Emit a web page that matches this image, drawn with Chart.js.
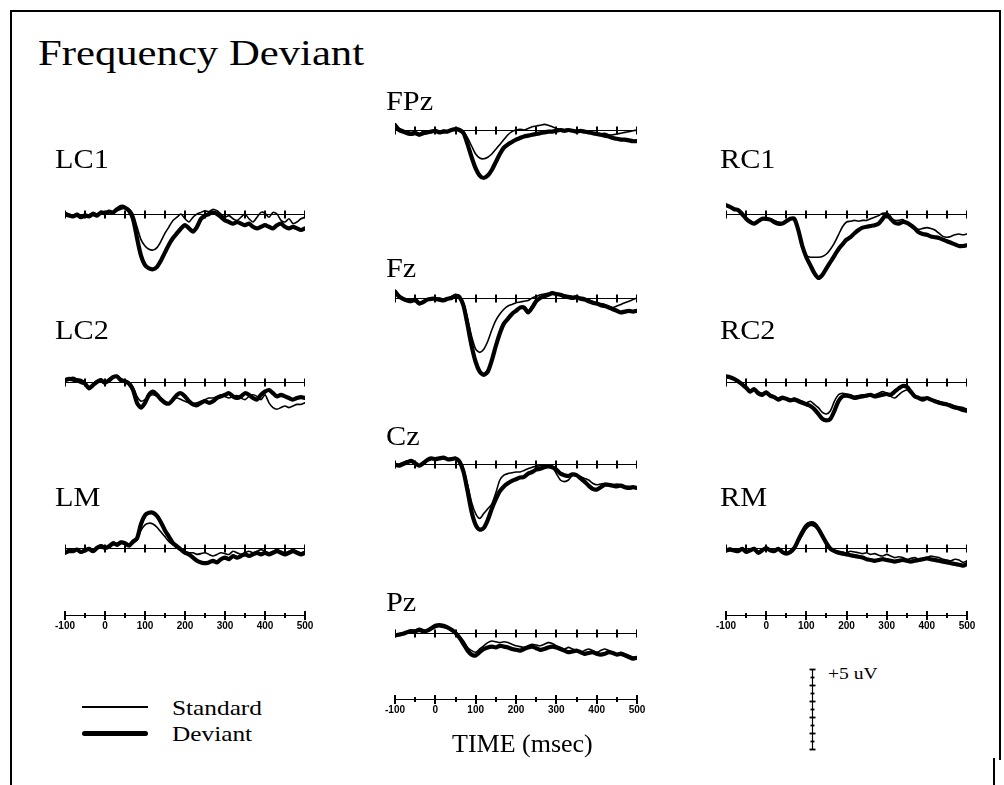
<!DOCTYPE html>
<html><head><meta charset="utf-8">
<script src="https://cdn.jsdelivr.net/npm/chart.js@4/dist/chart.umd.min.js"></script>
<style>
html,body{margin:0;padding:0;background:#fff;}
#wrap{position:relative;width:1004px;height:785px;overflow:hidden;background:#fff;}
.t{position:absolute;font-family:"Liberation Serif","Times New Roman",serif;color:#000;white-space:nowrap;line-height:1;transform-origin:0 0;}
canvas{position:absolute;}
.rule{position:absolute;background:#000;}
</style></head><body><div id="wrap"></div>
<script>
// ---- data (microvolts, 10 ms steps) ----
const TIMES = [-100,-90,-80,-70,-60,-50,-40,-30,-20,-10,0,10,20,30,40,50,60,70,80,90,100,110,120,130,140,150,160,170,180,190,200,210,220,230,240,250,260,270,280,290,300,310,320,330,340,350,360,370,380,390,400,410,420,430,440,450,460,470,480,490,500];
const AXIS_TICKS = [-100,-50,0,50,100,150,200,250,300,350,400,450,500];
const TICK_LABELS = [-100,0,100,200,300,400,500];
const CAL_TICKS = [0,0.5,1,1.5,2,2.5,3,3.5,4,4.5,5];

const LC1_STD = [0.1,0.0,-0.1,0.05,-0.1,0.0,-0.05,0.1,0.0,0.15,0.1,
 0.2,0.1,0.2,0.3,0.4,0.3,
 0.0,-0.8,-1.6,-2.0,-2.2,-2.25,-2.1,-1.7,-1.2,-0.8,
 -0.4,-0.2,0.0,-0.3,-0.5,-0.2,0.0,0.1,0.2,0.15,
 0.3,0.2,0.0,-0.2,-0.1,-0.3,-0.4,-0.2,0.0,-0.3,
 -0.5,-0.2,0.1,0.05,-0.2,0.1,0.0,-0.4,-0.5,-0.3,
 -0.6,-0.5,-0.3,-0.2];
const LC1_DEV = [0.0,-0.1,-0.15,-0.05,-0.2,-0.1,-0.15,0.0,-0.1,0.1,0.05,
 0.15,0.1,0.3,0.45,0.4,0.2,
 -0.3,-1.5,-2.6,-3.2,-3.4,-3.45,-3.3,-2.9,-2.4,-1.9,
 -1.5,-1.2,-0.9,-0.7,-0.9,-1.1,-0.8,-0.3,-0.1,0.0,
 0.1,0.0,-0.2,-0.4,-0.5,-0.6,-0.5,-0.6,-0.7,-0.6,
 -0.8,-0.9,-0.8,-0.7,-0.8,-0.9,-0.7,-0.6,-0.8,-0.9,
 -0.8,-0.9,-1.0,-0.9];
const LC2_STD = [0.2,0.25,0.3,0.2,0.15,0.0,-0.3,-0.1,0.1,0.2,0.0,
 0.2,0.3,0.4,0.2,0.1,0.0,
 -0.3,-0.9,-1.2,-1.1,-0.9,-0.8,-0.9,-1.0,-1.2,-1.3,
 -1.1,-1.0,-1.1,-1.2,-1.3,-1.35,-1.3,-1.2,-1.1,-1.0,
 -1.0,-0.9,-0.8,-0.9,-1.0,-0.9,-0.85,-1.0,-1.1,-0.9,
 -0.8,-0.9,-1.1,-0.8,-1.3,-1.6,-1.7,-1.6,-1.5,-1.6,
 -1.5,-1.4,-1.4,-1.3];
const LC2_DEV = [0.1,0.2,0.15,0.1,0.0,-0.1,-0.4,-0.2,0.0,0.1,-0.05,
 0.1,0.3,0.35,0.1,0.05,-0.1,
 -0.5,-1.3,-1.6,-1.3,-0.8,-0.6,-0.8,-1.1,-1.3,-1.35,
 -1.1,-0.8,-0.7,-0.9,-1.2,-1.4,-1.45,-1.3,-1.2,-1.3,
 -1.2,-1.0,-0.9,-0.8,-0.7,-0.9,-1.0,-0.9,-0.7,-0.8,
 -1.0,-1.1,-0.8,-0.6,-0.5,-0.7,-0.9,-0.8,-0.9,-1.0,
 -1.1,-1.0,-0.95,-1.0];
const LM_STD = [-0.2,-0.1,-0.15,-0.1,-0.2,-0.1,0.0,-0.1,0.1,0.2,0.1,
 0.0,0.2,0.3,0.4,0.3,0.2,
 0.3,0.5,1.1,1.45,1.55,1.5,1.3,1.0,0.7,0.4,
 0.2,0.0,-0.1,-0.2,-0.3,-0.3,-0.4,-0.35,-0.3,-0.4,
 -0.5,-0.4,-0.3,-0.35,-0.4,-0.2,-0.3,-0.4,-0.3,-0.2,
 -0.3,-0.2,-0.1,-0.2,-0.3,-0.2,-0.1,-0.2,-0.3,-0.2,
 -0.1,-0.2,-0.3,-0.2];
const LM_DEV = [-0.3,-0.2,-0.2,-0.1,-0.25,-0.15,-0.05,-0.2,0.0,0.1,0.0,
 0.1,0.3,0.2,0.35,0.3,0.15,
 0.4,0.6,1.5,2.05,2.2,2.2,2.0,1.6,1.1,0.7,
 0.3,0.1,-0.1,-0.3,-0.4,-0.6,-0.8,-0.9,-0.95,-0.9,
 -0.8,-0.9,-0.7,-0.6,-0.7,-0.5,-0.6,-0.5,-0.4,-0.5,
 -0.4,-0.3,-0.4,-0.3,-0.4,-0.3,-0.2,-0.3,-0.4,-0.3,
 -0.2,-0.3,-0.4,-0.3];
const FPZ_STD = [0.4,0.1,0.0,-0.1,-0.15,-0.1,-0.2,-0.1,-0.05,-0.1,0.0,
 -0.1,0.0,-0.05,0.0,0.1,0.05,
 -0.1,-0.5,-1.0,-1.5,-1.75,-1.8,-1.7,-1.5,-1.2,-0.9,
 -0.6,-0.3,-0.1,0.0,0.05,0.0,0.1,0.2,0.25,0.3,
 0.35,0.3,0.2,0.1,0.05,0.0,0.05,0.0,-0.05,0.0,
 -0.1,-0.1,-0.2,-0.2,-0.25,-0.2,-0.3,-0.3,-0.25,-0.2,
 -0.15,-0.1,-0.05,0.0];
const FPZ_DEV = [0.3,0.0,-0.1,-0.2,-0.25,-0.2,-0.3,-0.2,-0.15,-0.1,-0.05,
 -0.15,-0.1,-0.1,0.0,0.05,0.0,
 -0.2,-0.9,-1.7,-2.4,-2.85,-3.0,-2.85,-2.5,-2.0,-1.5,
 -1.1,-0.9,-0.75,-0.6,-0.5,-0.4,-0.35,-0.3,-0.25,-0.2,
 -0.15,-0.1,-0.1,-0.05,0.0,-0.05,0.0,-0.05,-0.1,-0.05,
 -0.1,-0.15,-0.2,-0.25,-0.3,-0.35,-0.4,-0.5,-0.55,-0.6,
 -0.6,-0.65,-0.7,-0.7];
const FZ_STD = [0.5,0.2,0.0,-0.1,-0.1,-0.05,-0.3,-0.2,-0.1,0.0,-0.1,
 0.0,-0.1,0.0,0.1,0.2,0.1,
 -0.3,-1.3,-2.4,-3.2,-3.4,-3.2,-2.7,-2.0,-1.4,-1.0,
 -0.7,-0.5,-0.4,-0.3,-0.25,-0.2,-0.15,0.0,0.1,0.2,
 0.25,0.3,0.35,0.3,0.25,0.2,0.15,0.1,0.1,0.05,
 0.0,-0.1,-0.2,-0.3,-0.35,-0.4,-0.5,-0.6,-0.5,-0.4,
 -0.3,-0.2,-0.1,0.0];
const FZ_DEV = [0.4,0.1,-0.05,-0.15,-0.2,-0.1,-0.35,-0.25,-0.1,-0.05,-0.05,
 -0.1,-0.15,-0.05,0.0,0.15,0.05,
 -0.5,-1.7,-3.0,-4.0,-4.6,-4.8,-4.6,-3.9,-3.0,-2.2,
 -1.6,-1.3,-1.0,-0.8,-0.6,-0.6,-0.9,-0.6,-0.2,0.0,
 0.1,0.2,0.3,0.25,0.2,0.1,0.05,0.0,0.05,-0.05,
 -0.1,-0.2,-0.3,-0.35,-0.45,-0.5,-0.6,-0.7,-0.8,-0.9,
 -0.85,-0.8,-0.85,-0.8];
const CZ_STD = [-0.1,0.0,0.1,0.2,0.15,0.0,-0.15,0.0,0.2,0.3,0.35,
 0.4,0.35,0.3,0.35,0.4,0.2,
 -0.3,-1.3,-2.4,-3.1,-3.4,-3.1,-2.8,-2.5,-1.8,-1.0,
 -0.7,-0.6,-0.55,-0.5,-0.5,-0.4,-0.3,-0.2,-0.15,-0.1,
 -0.1,-0.15,-0.2,-0.6,-1.0,-1.1,-1.0,-0.7,-0.7,-0.8,
 -0.9,-1.0,-1.2,-1.3,-1.25,-1.2,-1.25,-1.3,-1.25,-1.3,
 -1.4,-1.4,-1.45,-1.45];
const CZ_DEV = [-0.05,-0.1,0.0,0.1,0.2,0.05,-0.1,0.05,0.25,0.35,0.3,
 0.35,0.4,0.3,0.3,0.35,0.15,
 -0.5,-1.7,-3.0,-3.8,-4.1,-4.0,-3.5,-2.8,-2.2,-1.7,
 -1.4,-1.2,-1.05,-0.95,-0.85,-0.8,-0.6,-0.5,-0.35,-0.3,
 -0.2,-0.15,-0.2,-0.35,-0.6,-0.7,-0.75,-0.65,-0.7,-0.9,
 -1.1,-1.35,-1.55,-1.6,-1.45,-1.3,-1.3,-1.35,-1.4,-1.35,
 -1.45,-1.5,-1.45,-1.5];
const PZ_STD = [-0.1,-0.05,0.0,0.1,0.2,0.15,0.3,0.2,0.1,0.2,0.35,
 0.4,0.35,0.3,0.15,0.0,-0.2,
 -0.5,-0.9,-1.1,-1.2,-1.0,-0.8,-0.6,-0.5,-0.55,-0.6,
 -0.55,-0.6,-0.7,-0.8,-0.85,-0.9,-0.8,-0.7,-0.75,-0.8,
 -0.7,-0.6,-0.65,-0.8,-0.9,-1.0,-0.9,-1.0,-1.1,-1.2,
 -1.1,-1.0,-1.1,-1.2,-1.1,-1.0,-1.1,-1.2,-1.3,-1.2,
 -1.3,-1.4,-1.5,-1.55];
const PZ_DEV = [-0.15,-0.1,-0.05,0.05,0.1,0.1,0.2,0.1,0.15,0.3,0.45,
 0.5,0.45,0.35,0.2,0.0,-0.3,
 -0.7,-1.1,-1.35,-1.4,-1.2,-1.0,-0.9,-0.85,-0.9,-0.8,
 -0.85,-0.9,-1.0,-1.05,-1.1,-1.0,-0.9,-0.85,-0.95,-1.05,
 -1.0,-0.9,-0.85,-0.9,-1.0,-1.1,-1.2,-1.15,-1.1,-1.2,
 -1.3,-1.25,-1.2,-1.3,-1.35,-1.3,-1.2,-1.25,-1.35,-1.3,
 -1.4,-1.5,-1.6,-1.55];
const RC1_STD = [0.5,0.4,0.35,0.3,0.1,-0.2,-0.4,-0.55,-0.4,-0.35,-0.3,
 -0.3,-0.4,-0.5,-0.55,-0.4,-0.25,
 -0.3,-0.9,-1.9,-2.6,-2.7,-2.7,-2.7,-2.65,-2.5,-2.2,
 -1.8,-1.3,-0.8,-0.5,-0.45,-0.4,-0.45,-0.4,-0.4,-0.3,
 -0.2,-0.1,0.05,0.0,-0.3,-0.4,-0.4,-0.35,-0.5,-0.7,
 -0.9,-0.95,-0.9,-0.85,-0.9,-1.0,-1.2,-1.4,-1.45,-1.4,
 -1.3,-1.25,-1.3,-1.25];
const RC1_DEV = [0.55,0.45,0.3,0.25,0.0,-0.3,-0.5,-0.6,-0.45,-0.3,-0.3,
 -0.35,-0.5,-0.6,-0.6,-0.45,-0.3,
 -0.3,-1.0,-2.0,-2.7,-3.2,-3.7,-4.0,-3.8,-3.4,-3.0,
 -2.6,-2.2,-1.9,-1.6,-1.45,-1.2,-1.0,-0.85,-0.8,-0.75,
 -0.7,-0.6,-0.3,0.0,-0.3,-0.55,-0.6,-0.5,-0.55,-0.7,
 -0.9,-1.15,-1.25,-1.3,-1.4,-1.45,-1.5,-1.6,-1.7,-1.8,
 -1.9,-2.0,-2.0,-1.95];
const RC2_STD = [0.3,0.25,0.2,0.1,-0.1,-0.3,-0.5,-0.4,-0.6,-0.7,-0.6,
 -0.8,-0.9,-1.0,-0.9,-1.0,-1.1,
 -1.0,-1.1,-1.2,-1.3,-1.2,-1.4,-1.6,-1.9,-2.0,-1.8,
 -1.2,-0.8,-0.7,-0.75,-0.8,-0.9,-0.85,-0.8,-0.9,-0.85,
 -0.8,-0.7,-0.6,-0.7,-0.9,-1.0,-0.8,-0.6,-0.5,-0.7,
 -0.9,-1.0,-0.95,-1.0,-1.1,-1.15,-1.2,-1.3,-1.35,-1.4,
 -1.5,-1.55,-1.6,-1.7];
const RC2_DEV = [0.35,0.3,0.2,0.05,-0.15,-0.35,-0.6,-0.45,-0.7,-0.8,-0.65,
 -0.85,-0.95,-1.1,-1.0,-1.05,-1.15,
 -1.1,-1.2,-1.3,-1.4,-1.5,-1.7,-2.0,-2.3,-2.4,-2.3,
 -1.8,-1.2,-0.9,-0.85,-0.9,-1.0,-0.95,-0.9,-0.85,-0.8,
 -0.9,-0.85,-0.8,-0.75,-0.8,-0.6,-0.4,-0.25,-0.3,-0.6,
 -0.9,-1.0,-1.1,-1.0,-1.1,-1.2,-1.3,-1.35,-1.4,-1.5,
 -1.6,-1.65,-1.75,-1.8];
const RM_STD = [-0.1,0.0,-0.1,-0.15,0.0,-0.2,-0.1,0.0,-0.25,-0.1,0.05,
 -0.1,-0.15,0.0,-0.2,-0.3,-0.2,
 0.0,0.4,0.8,1.2,1.4,1.35,1.1,0.7,0.3,0.0,
 -0.15,-0.2,-0.25,-0.3,-0.2,-0.25,-0.3,-0.35,-0.3,-0.4,
 -0.35,-0.45,-0.5,-0.4,-0.5,-0.6,-0.55,-0.6,-0.7,-0.65,
 -0.6,-0.7,-0.65,-0.6,-0.5,-0.55,-0.6,-0.7,-0.75,-0.8,
 -0.7,-0.75,-0.9,-0.8];
const RM_DEV = [-0.15,-0.1,-0.15,-0.2,-0.05,-0.25,-0.15,-0.05,-0.3,-0.15,0.0,
 -0.15,-0.2,-0.05,-0.25,-0.35,-0.25,
 0.0,0.5,1.0,1.4,1.55,1.5,1.2,0.75,0.3,-0.05,
 -0.2,-0.3,-0.35,-0.4,-0.45,-0.5,-0.55,-0.6,-0.7,-0.75,
 -0.8,-0.75,-0.7,-0.75,-0.8,-0.85,-0.8,-0.75,-0.8,-0.85,
 -0.8,-0.75,-0.7,-0.65,-0.7,-0.75,-0.8,-0.85,-0.9,-0.95,
 -1.0,-1.05,-1.1,-1.0];

// ---- layout ----
const wrap = document.getElementById('wrap');
const PX_PER_UV = 16;
const YMIN = -5.5, YMAX = 3;

function rule(x,y,w,h){const d=document.createElement('div');d.className='rule';d.style.left=x+'px';d.style.top=y+'px';d.style.width=w+'px';d.style.height=h+'px';wrap.appendChild(d);return d;}
function txt(s,x,base,size,sx){const d=document.createElement('div');d.className='t';d.textContent=s;d.style.fontSize=size+'px';d.style.left=x+'px';d.style.top=(base-0.8375*size)+'px';d.style.transform='scaleX('+sx+')';wrap.appendChild(d);return d;}
function mkCanvas(l,t,w,h){const c=document.createElement('canvas');c.width=w;c.height=h;c.style.left=l+'px';c.style.top=t+'px';c.style.width=w+'px';c.style.height=h+'px';wrap.appendChild(c);return c;}

const zeroAxis = {
  id:'zeroAxis',
  beforeDatasetsDraw(chart){
    const {ctx, scales:{x,y}} = chart;
    const y0 = Math.round(y.getPixelForValue(0))+0.5;
    ctx.save();
    ctx.strokeStyle='#000';
    ctx.lineWidth=1.2;
    ctx.beginPath();ctx.moveTo(x.getPixelForValue(AXIS_TICKS[0]),y0);ctx.lineTo(x.getPixelForValue(AXIS_TICKS[AXIS_TICKS.length-1]),y0);ctx.stroke();
    ctx.lineWidth=2;
    AXIS_TICKS.forEach(t=>{const px=Math.round(x.getPixelForValue(t));ctx.beginPath();ctx.moveTo(px,y0-4);ctx.lineTo(px,y0+4);ctx.stroke();});
    ctx.restore();
  }
};

function panel(left,width,baseY,std,dev){
  const H=(YMAX-YMIN)*PX_PER_UV;
  const c=mkCanvas(left,baseY-YMAX*PX_PER_UV,width,H);
  new Chart(c,{
    type:'line',
    data:{datasets:[
      {data:TIMES.map((t,i)=>({x:t,y:std[i]})),borderColor:'#000',borderWidth:1.6,pointRadius:0,tension:0.25,fill:false,clip:false,borderJoinStyle:'round',borderCapStyle:'round'},
      {data:TIMES.map((t,i)=>({x:t,y:dev[i]})),borderColor:'#000',borderWidth:4.2,pointRadius:0,tension:0.25,fill:false,clip:false,borderJoinStyle:'round',borderCapStyle:'round'}
    ]},
    options:{responsive:false,animation:false,events:[],devicePixelRatio:1,layout:{padding:0},
      plugins:{legend:{display:false},tooltip:{enabled:false}},
      scales:{x:{type:'linear',min:-100,max:500,display:false},y:{min:YMIN,max:YMAX,display:false}}},
    plugins:[zeroAxis]
  });
}

const timeAxis = {
  id:'timeAxis',
  afterDraw(chart){
    const {ctx, scales:{x}, chartArea} = chart;
    const y0 = chartArea.top+0.5;
    ctx.save();
    ctx.strokeStyle='#000';ctx.fillStyle='#000';
    ctx.lineWidth=1.2;
    ctx.beginPath();ctx.moveTo(x.getPixelForValue(-100),y0);ctx.lineTo(x.getPixelForValue(500),y0);ctx.stroke();
    AXIS_TICKS.forEach(t=>{
      const px=Math.round(x.getPixelForValue(t));
      const major = t%100===0;
      ctx.lineWidth=2;
      ctx.beginPath();ctx.moveTo(px,y0-(major?4.5:2.5));ctx.lineTo(px,y0+(major?4.5:2.5));ctx.stroke();
    });
    ctx.font='bold 10px "Liberation Sans Narrow","Arial Narrow","Liberation Sans",sans-serif';
    ctx.textAlign='center';ctx.textBaseline='middle';
    TICK_LABELS.forEach(t=>{ctx.fillText(String(t),x.getPixelForValue(t),y0+11);});
    ctx.restore();
  }
};
function axisChart(left,width,lineY){
  const c=mkCanvas(left-20,lineY-8,width+40,30);
  new Chart(c,{type:'line',data:{datasets:[]},
    options:{responsive:false,animation:false,events:[],devicePixelRatio:1,layout:{padding:{left:20,right:20,top:8,bottom:2}},
      plugins:{legend:{display:false},tooltip:{enabled:false}},
      scales:{x:{type:'linear',min:-100,max:500,display:false},y:{min:0,max:1,display:false}}},
    plugins:[timeAxis]});
}

const calBar = {
  id:'calBar',
  afterDraw(chart){
    const {ctx, scales:{y}, chartArea} = chart;
    const xc = Math.round((chartArea.left+chartArea.right)/2)+0.5;
    ctx.save();ctx.strokeStyle='#000';ctx.lineWidth=1.2;
    ctx.beginPath();ctx.moveTo(xc,y.getPixelForValue(0));ctx.lineTo(xc,y.getPixelForValue(5));ctx.stroke();
    ctx.lineWidth=1.8;
    CAL_TICKS.forEach(v=>{const py=Math.round(y.getPixelForValue(v))+0.5;const w=(v%1===0)?3:2;ctx.beginPath();ctx.moveTo(xc-w,py);ctx.lineTo(xc+w,py);ctx.stroke();});
    ctx.restore();
  }
};
function calChart(xc,topY){
  const c=mkCanvas(xc-12,topY-6,24,5*PX_PER_UV+12);
  new Chart(c,{type:'line',data:{datasets:[]},
    options:{responsive:false,animation:false,events:[],devicePixelRatio:1,layout:{padding:{left:0,right:0,top:6,bottom:6}},
      plugins:{legend:{display:false},tooltip:{enabled:false}},
      scales:{x:{display:false},y:{min:0,max:5,display:false}}},
    plugins:[calBar]});
}

// frame
rule(10,10,991,2);
rule(10,10,2,775);
rule(999,10,2,750);
rule(993,758,2,27);

// columns
const L={x:65,w:240}, M={x:395,w:242}, R={x:726,w:241};
panel(L.x,L.w,214,LC1_STD,LC1_DEV);
panel(L.x,L.w,382,LC2_STD,LC2_DEV);
panel(L.x,L.w,548,LM_STD,LM_DEV);
panel(M.x,M.w,130,FPZ_STD,FPZ_DEV);
panel(M.x,M.w,298,FZ_STD,FZ_DEV);
panel(M.x,M.w,464,CZ_STD,CZ_DEV);
panel(M.x,M.w,633,PZ_STD,PZ_DEV);
panel(R.x,R.w,214,RC1_STD,RC1_DEV);
panel(R.x,R.w,382,RC2_STD,RC2_DEV);
panel(R.x,R.w,548,RM_STD,RM_DEV);
axisChart(L.x,L.w,615);
axisChart(M.x,M.w,699);
axisChart(R.x,R.w,615);
calChart(812,669);

// text
txt('Frequency Deviant',38,65,35,1.22);
const LBL=27, LSX=1.12;
txt('LC1',55,169,LBL,LSX);
txt('LC2',55,340,LBL,LSX);
txt('LM',55,507,LBL,LSX);
txt('FPz',386,111,LBL,LSX);
txt('Fz',386,278,LBL,LSX);
txt('Cz',386,446,LBL,LSX);
txt('Pz',386,612,LBL,LSX);
txt('RC1',720,169,LBL,LSX);
txt('RC2',720,340,LBL,LSX);
txt('RM',720,507,LBL,LSX);
txt('TIME (msec)',452,753,26,1.0);
txt('Standard',172,715,22,1.15);
txt('Deviant',172,741,22,1.15);
txt('+5 uV',828,679,17,1.15);
// legend swatches
rule(82,706,66,2);
const thick=rule(82,731,66,5);thick.style.borderRadius='3px';
</script></body></html>
